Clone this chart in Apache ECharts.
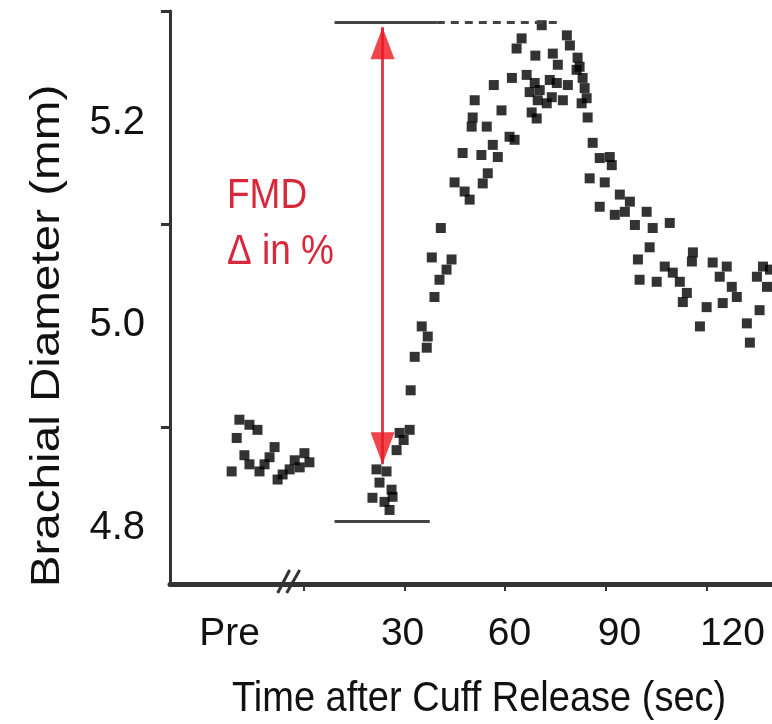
<!DOCTYPE html>
<html>
<head>
<meta charset="utf-8">
<script src="https://cdn.jsdelivr.net/npm/echarts@6.0.0/dist/echarts.min.js"></script>
<style>
html,body{margin:0;padding:0;background:#fff;}
#chart{width:772px;height:724px;}
</style>
</head>
<body>
<div id="chart"></div>
<script>
// ---- data (time in seconds after cuff release, diameter in mm) ----
const preTime = [-19.3,-16.3,-13.9,-20.1,-21.6,-16.3,-13.3,-10.3,-8.8,-7.9,-4.3,-1.3,0.1,1.6,-17.8,-11.8,-6.4,-2.8];
const preDiam = [4.907,4.902,4.897,4.889,4.856,4.863,4.856,4.870,4.880,4.848,4.858,4.860,4.874,4.865,4.872,4.863,4.853,4.867];

const postTime = [20.4,21.6,22.5,24.0,24.6,25.5,26.1,26.4,27.6,28.5,29.7,31.5,31.8,33.0,35.1,36.6,36.9,38.1,38.9,40.4,
  40.8,42.5,44.0,44.9,47.3,47.9,49.4,50.0,50.3,50.9,52.9,53.3,54.5,54.8,56.3,56.6,57.8,58.9,61.3,62.0,
  62.8,63.4,64.9,66.4,67.3,67.9,68.8,69.0,69.4,69.7,70.3,70.9,72.4,73.3,73.9,74.2,75.4,75.7,77.2,78.4,
  78.7,79.3,81.3,81.6,82.2,83.1,82.8,83.7,84.3,84.6,85.2,86.1,88.2,88.2,89.7,91.2,91.8,92.7,94.2,95.7,
  97.2,98.7,99.6,100.1,102.2,103.1,104.0,105.2,107.6,109.1,110.0,112.1,113.0,114.2,115.7,116.0,118.1,120.1,121.9,124.0,
  124.9,126.1,127.6,129.1,132.1,133.0,135.1,135.9,136.9,138.1,139.0];
const postDiam = [4.830,4.858,4.845,4.826,4.856,4.818,4.838,4.831,4.877,4.894,4.887,4.897,4.936,4.969,4.999,4.978,4.989,5.067,5.028,5.045,
  5.096,5.055,5.065,5.141,5.170,5.132,5.124,5.196,5.205,5.222,5.168,5.140,5.196,5.150,5.178,5.237,5.166,5.212,5.186,5.244,
  5.183,5.273,5.283,5.247,5.230,5.210,5.239,5.266,5.204,5.222,5.232,5.296,5.219,5.242,5.225,5.268,5.239,5.257,5.222,5.286,
  5.237,5.276,5.252,5.264,5.255,5.244,5.219,5.234,5.224,5.205,5.145,5.180,5.165,5.117,5.141,5.166,5.158,5.109,5.129,5.112,
  5.122,5.099,5.065,5.045,5.112,5.077,5.096,5.043,5.058,5.101,5.052,5.043,5.023,5.032,5.063,5.072,4.999,5.018,5.062,5.048,
  5.022,5.058,5.038,5.028,5.002,4.983,5.048,5.015,5.058,5.038,5.055];

// axis ticks / labels
const yLabelValues = [4.8, 5.0, 5.2];
const yTickValues = [4.9, 5.1, 5.31];
const xTickValues = [0, 30, 60, 90, 120];
const xLabelNames = ['Pre', '30', '60', '90', '120'];
const xLabelPos = [-22.2, 29.4, 61.3, 94.1, 127.8];

// FMD annotation (values)
const fmdPeak = 5.299, fmdBase = 4.807;
const fmdLineStart = 9.1, fmdTopSolidEnd = 39.6, fmdTopDashEnd = 75.4, fmdBottomEnd = 37.5;
const arrowTime = 23.4, arrowTop = 5.294, arrowBottom = 4.863;
const breakTime = -4.3;

const chart = echarts.init(document.getElementById('chart'), null, {renderer: 'canvas'});
const zip = (a, b) => a.map((v, i) => [v, b[i]]);
const labelFont = "'Liberation Sans', Arial, sans-serif";

const option = {
  backgroundColor: '#fff',
  animation: false,
  grid: {left: 170, right: 0, top: 11, bottom: 140, containLabel: false},
  xAxis: {
    type: 'value', min: -40, max: 139.6,
    axisLine: {show: true, onZero: false, lineStyle: {color: '#333', width: 5}},
    axisTick: {show: true, customValues: xTickValues, length: 7, lineStyle: {color: '#333', width: 2}},
    axisLabel: {
      customValues: xLabelPos, margin: 31, color: '#111',
      fontFamily: labelFont, fontSize: 39,
      formatter: v => xLabelNames[xLabelPos.indexOf(v)] || ''
    },
    splitLine: {show: false}
  },
  yAxis: {
    type: 'value', min: 4.745, max: 5.31,
    axisLine: {show: true, onZero: false, lineStyle: {color: '#333', width: 3}},
    axisTick: {show: true, customValues: yTickValues, length: 9, lineStyle: {color: '#333', width: 3}},
    axisLabel: {
      customValues: yLabelValues, margin: 25, color: '#111',
      fontFamily: labelFont, fontSize: 40,
      formatter: v => v.toFixed(1)
    },
    splitLine: {show: false}
  },
  series: [
    {
      type: 'scatter', name: 'Pre', data: zip(preTime, preDiam),
      symbol: 'rect', symbolSize: 10, itemStyle: {color: '#000'}
    },
    {
      type: 'scatter', name: 'Post', data: zip(postTime, postDiam),
      symbol: 'rect', symbolSize: 10, itemStyle: {color: '#000'},
      markLine: {
        silent: true, symbol: 'none', label: {show: false}, animation: false,
        data: [
          [{coord: [fmdLineStart, fmdPeak], lineStyle: {color: '#444', width: 3, type: 'solid'}}, {coord: [fmdTopSolidEnd, fmdPeak]}],
          [{coord: [fmdTopSolidEnd, fmdPeak], lineStyle: {color: '#444', width: 3, type: [8, 6]}}, {coord: [fmdTopDashEnd, fmdPeak]}],
          [{coord: [fmdLineStart, fmdBase], lineStyle: {color: '#444', width: 3, type: 'solid'}}, {coord: [fmdBottomEnd, fmdBase]}]
        ]
      }
    },
    {
      type: 'scatter', name: 'arrow', z: 5,
      data: [
        {value: [arrowTime, arrowTop], symbolRotate: 0, symbolOffset: [0, '50%']},
        {value: [arrowTime, arrowBottom], symbolRotate: 180, symbolOffset: [0, '-50%']}
      ],
      symbol: 'triangle', symbolSize: [24, 32], itemStyle: {color: '#ee1620'},
      markLine: {
        silent: true, symbol: 'none', label: {show: false}, animation: false,
        data: [
          [{coord: [arrowTime, arrowTop], lineStyle: {color: '#e0404e', width: 3, type: 'solid'}}, {coord: [arrowTime, arrowBottom]}]
        ]
      }
    }
  ]
};
chart.setOption(option);

const bp = chart.convertToPixel({gridIndex: 0}, [breakTime, 4.745]);
chart.setOption({
  graphic: [
    {type: 'line', shape: {x1: bp[0] - 12, y1: bp[1] + 9, x2: bp[0], y2: bp[1] - 14}, style: {stroke: '#333', lineWidth: 3}, z: 10},
    {type: 'line', shape: {x1: bp[0] - 3, y1: bp[1] + 9, x2: bp[0] + 10, y2: bp[1] - 14}, style: {stroke: '#333', lineWidth: 3}, z: 10},
    {type: 'text', x: 227, y: 196, scaleY: 1.15, style: {text: 'FMD', fill: '#d8283c', font: "37px " + labelFont, textAlign: 'left', textVerticalAlign: 'middle'}, z: 10},
    {type: 'text', x: 227, y: 252, scaleY: 1.15, style: {text: 'Δ in %', fill: '#d8283c', font: "37px " + labelFont, textAlign: 'left', textVerticalAlign: 'middle'}, z: 10},
    {type: 'text', x: 232, y: 699, scaleY: 1.12, style: {text: 'Time after Cuff Release (sec)', fill: '#111', font: "38px " + labelFont, textAlign: 'left', textVerticalAlign: 'middle'}, z: 10},
    {type: 'text', x: 48, y: 336, rotation: Math.PI / 2, scaleX: 1.19, scaleY: 1,
      style: {text: 'Brachial Diameter (mm)', fill: '#111', font: "40px " + labelFont, textAlign: 'center', textVerticalAlign: 'middle'}, z: 10}
  ]
});
</script>
</body>
</html>
